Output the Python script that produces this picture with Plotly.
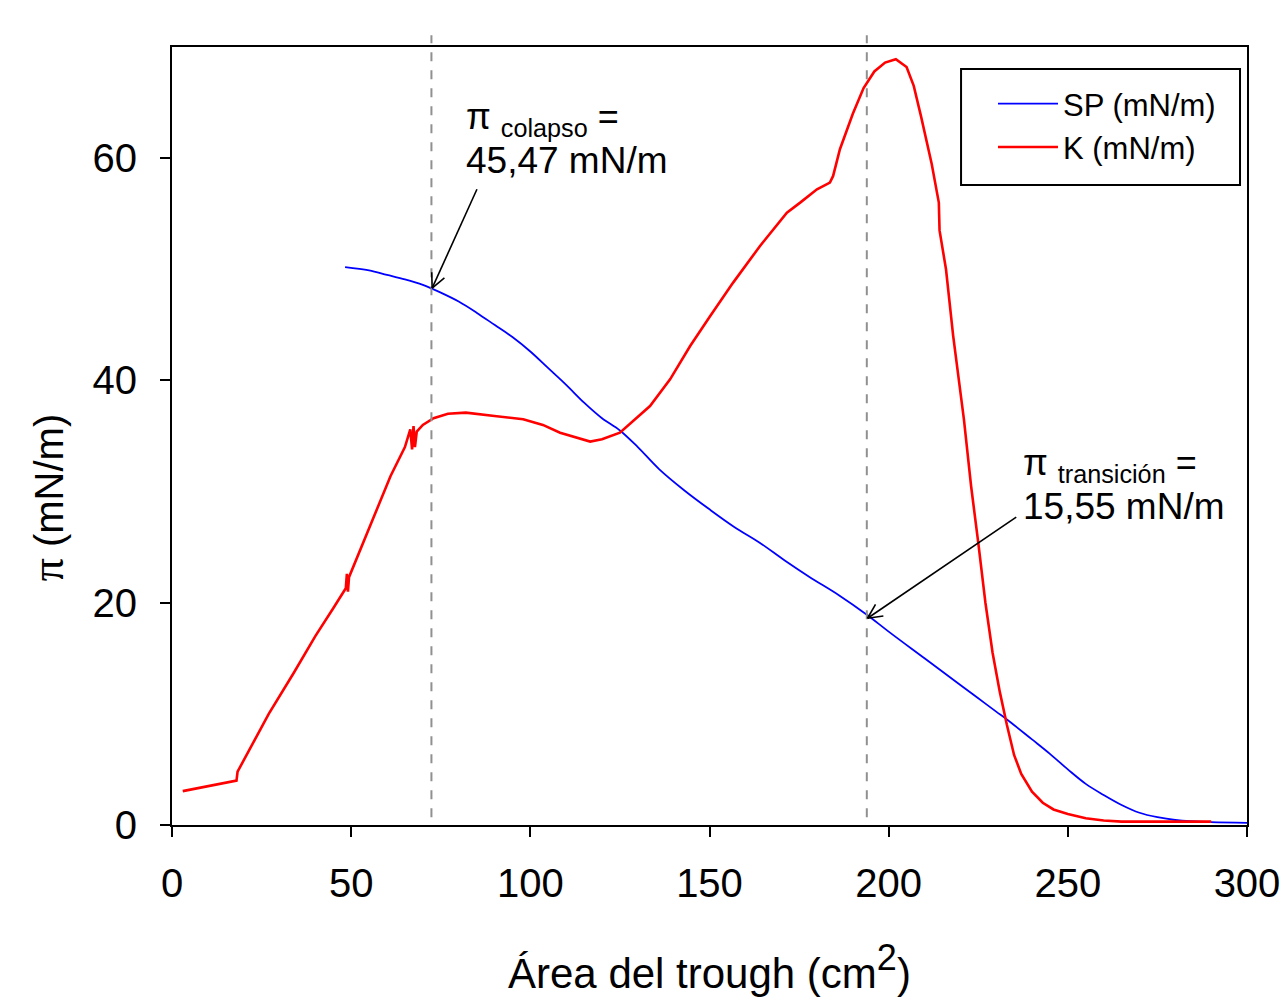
import math
import plotly.graph_objects as go

# ---------------- data ----------------
sp_area = [48.3, 55, 60, 65, 70, 75, 80, 85, 90, 95, 100, 105, 110, 115, 120, 125,
           130, 136, 143, 150, 157, 164, 171, 178, 186, 194, 200, 210, 220, 225, 230,
           233, 240, 245, 250, 255, 260, 265, 270, 275, 280, 290, 300]
sp_pi = [50.2, 49.9, 49.5, 49.1, 48.6, 47.9, 47.1, 46.1, 45.0, 43.9, 42.6, 41.1,
         39.6, 38.0, 36.6, 35.5, 34.0, 32.0, 30.1, 28.4, 26.8, 25.4, 23.8, 22.3, 20.7,
         18.9, 17.4, 15.0, 12.6, 11.4, 10.2, 9.5, 7.7, 6.4, 5.0, 3.7, 2.7, 1.8, 1.1,
         0.7, 0.45, 0.25, 0.2]

k_area = [3, 10, 18, 18.3, 22, 27, 34, 40, 45, 48.5, 48.8, 49.1, 49.4, 52, 56, 61, 65,
          66.5, 67, 67.4, 67.8, 68.3, 70, 73, 77,
          82, 90, 98, 103.5, 108.3, 116.7, 120, 125, 131.5, 133.4, 139, 144.6, 150.2,
          156.6, 164.1, 171.6, 175.3, 180, 183.6, 184.5, 186.4, 190, 193, 196, 199, 202,
          205, 207, 209, 212, 214, 214.2, 216, 218, 221, 223, 225, 227, 229, 231, 233, 235,
          237, 240, 243, 246, 250, 255, 260, 265, 270, 280, 290]
k_val = [3.05, 3.5, 4.0, 4.8, 7.0, 10.0, 13.7, 17.0, 19.5, 21.3, 22.6, 21.0, 22.3, 24.3,
         27.5, 31.4, 34.0,
         35.6, 33.8, 35.9, 34.0, 35.4, 36.0, 36.6, 37.0, 37.1, 36.8, 36.5, 36.0, 35.3,
         34.5, 34.7, 35.3, 37.1,
         37.7, 40.1, 43.1, 45.8, 48.8, 52.1, 55.1, 56.0, 57.2, 57.8, 58.4, 60.8, 64.0,
         66.3, 67.8, 68.6, 68.9, 68.2, 66.5, 63.8, 59.5, 56.0, 53.5, 50.0, 44.0, 36.5,
         30.5, 25.4, 20.0, 15.5, 12.0, 9.0, 6.3, 4.6, 3.0, 2.0, 1.4, 1.0, 0.6, 0.4, 0.3,
         0.3, 0.3, 0.3]

x_ticks = [0, 50, 100, 150, 200, 250, 300]
y_ticks = [0, 20, 40, 60]
x_range = [0, 300]
y_range = [0, 70]

collapse_area = 72.4
transition_area = 193.9
collapse_label = ["π <sub>colapso</sub> =", "45,47 mN/m"]
transition_label = ["π <sub>transición</sub> =", "15,55 mN/m"]

FONT = "Arial, Liberation Sans, sans-serif"

# ---------------- figure ----------------
W, H = 1283, 1007
ML, MR, MT, MB = 172, 36, 47, 182
pw, ph = W - ML - MR, H - MT - MB
sx = pw / (x_range[1] - x_range[0])
sy = ph / (y_range[1] - y_range[0])

fig = go.Figure()
fig.add_trace(go.Scatter(x=sp_area, y=sp_pi, mode="lines", name="SP (mN/m)",
                         line=dict(color="#0000ff", width=1.8), line_shape="spline"))
fig.add_trace(go.Scatter(x=k_area, y=k_val, mode="lines", name="K (mN/m)",
                         line=dict(color="#ff0000", width=2.6)))

# dashed guide lines
for xv in (collapse_area, transition_area):
    fig.add_shape(type="line", xref="x", yref="paper", x0=xv, x1=xv, y0=0.01, y1=1.015,
                  line=dict(color="#909090", width=2, dash="dash"))


def arrow(tail, head):
    fig.add_shape(type="line", xref="x", yref="y", x0=tail[0], y0=tail[1],
                  x1=head[0], y1=head[1], line=dict(color="black", width=1.6))
    dx = (tail[0] - head[0]) * sx
    dy = (tail[1] - head[1]) * sy
    L = math.hypot(dx, dy)
    ux, uy = dx / L, dy / L
    wing = 16
    for ang in (0.45, -0.45):
        rx = ux * math.cos(ang) - uy * math.sin(ang)
        ry = ux * math.sin(ang) + uy * math.cos(ang)
        fig.add_shape(type="line", xref="x", yref="y", x0=head[0], y0=head[1],
                      x1=head[0] + rx * wing / sx, y1=head[1] + ry * wing / sy,
                      line=dict(color="black", width=1.6))


arrow((85.1, 57.2), (collapse_area + 0.2, 48.3))
arrow((235.6, 27.7), (transition_area + 0.2, 18.6))


def label(x, y1, y2, lines):
    fig.add_annotation(x=x, y=y1, xref="x", yref="y", text=lines[0], showarrow=False,
                       xanchor="left", yanchor="middle",
                       font=dict(size=36, color="black", family=FONT))
    fig.add_annotation(x=x, y=y2, xref="x", yref="y", text=lines[1], showarrow=False,
                       xanchor="left", yanchor="middle",
                       font=dict(size=37, color="black", family=FONT))


label(81.6, 63.5, 59.8, collapse_label)
label(236.9, 32.4, 28.7, transition_label)

# axis titles
fig.add_annotation(x=0.5, y=-0.183, xref="paper", yref="paper",
                   text="Área del trough (cm<sup><span style='font-size:36px'>2</span></sup>)",
                   showarrow=False,
                   xanchor="center", yanchor="middle", font=dict(size=42, color="black", family=FONT))
fig.add_annotation(x=-0.115, y=0.4216, xref="paper", yref="paper",
                   text="<span style='font-family:Liberation Serif, DejaVu Serif, serif;font-size:46px'>π</span> (mN/m)",
                   showarrow=False, textangle=-90,
                   xanchor="center", yanchor="middle", font=dict(size=40, color="black", family=FONT))

# legend frame
fig.add_shape(type="rect", xref="paper", yref="paper",
              x0=0.734, x1=0.9935, y0=0.8226, y1=0.9717,
              line=dict(color="black", width=2), fillcolor="rgba(0,0,0,0)", layer="above")

axis_common = dict(showline=True, linecolor="black", linewidth=2, mirror=True,
                   ticks="outside", ticklen=10, tickwidth=2, tickcolor="black",
                   showgrid=False, zeroline=False, automargin=False,
                   tickfont=dict(size=40, color="black", family=FONT))
fig.update_xaxes(range=x_range, tickvals=x_ticks, ticklabelstandoff=12, **axis_common)
fig.update_yaxes(range=y_range, tickvals=y_ticks, ticklabelstandoff=15, **axis_common)

fig.update_layout(
    width=W, height=H,
    margin=dict(l=ML, r=MR, t=MT, b=MB, autoexpand=False),
    paper_bgcolor="white", plot_bgcolor="white",
    font=dict(family=FONT, color="black"),
    showlegend=True,
    legend=dict(x=0.7637, y=0.9614, xanchor="left", yanchor="top",
                borderwidth=0, bgcolor="rgba(0,0,0,0)",
                font=dict(size=31, color="black", family=FONT),
                itemwidth=60, tracegroupgap=0),
)

fig.write_html("out.html", config={"displayModeBar": False},
               post_script="document.body.style.margin='0';document.body.style.overflow='hidden';")
